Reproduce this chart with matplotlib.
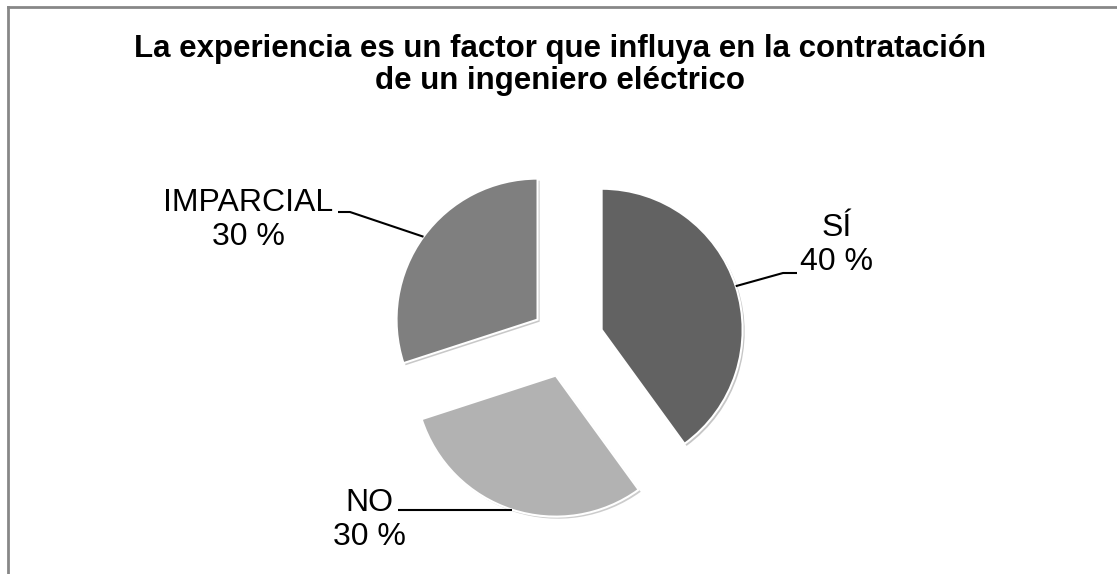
import matplotlib.pyplot as plt
import matplotlib.patheffects as pe
import numpy as np

# Data
labels = ['SÍ', 'NO', 'IMPARCIAL']
values = [40, 30, 30]
colors = ['#626262', '#b2b2b2', '#7f7f7f']

plt.rcParams['font.family'] = ['Liberation Sans', 'DejaVu Sans']

fig = plt.figure(figsize=(11.17, 5.74), dpi=100)
ax = fig.add_axes([0, 0, 1, 1])

# pie in pixel-like coordinates (y axis inverted below)
cx, cy, r = 567, 341, 141
gap = 36.4  # explode distance, same units as radius
wedges, _ = ax.pie(values,
                   colors=colors,
                   explode=[gap] * len(values),
                   startangle=-90,
                   counterclock=True,
                   center=(cx, cy),
                   radius=r,
                   wedgeprops=dict(edgecolor='white', linewidth=1.5))

for w in wedges:
    w.set_path_effects([pe.SimplePatchShadow(offset=(1.5, -1.5), alpha=0.25),
                        pe.Normal()])

ax.set_xlim(0, 1117)
ax.set_ylim(574, 0)
ax.set_aspect('equal')
ax.axis('off')

# label positions and elbow points for leader lines (None -> keep edge y)
label_pos = [(837, 245), (369, 520), (248, 220)]
elbow = [[(783, 273), (797, 273)],
         [(398, None)],
         [(350, 212), (338, 212)]]

for w, lab, v, pos, el in zip(wedges, labels, values, label_pos, elbow):
    mid = np.deg2rad((w.theta1 + w.theta2) / 2)
    wx, wy = w.center
    ex = wx + w.r * np.cos(mid)
    ey = wy + w.r * np.sin(mid)
    xs = [ex] + [p[0] for p in el]
    ys = [ey] + [ey if p[1] is None else p[1] for p in el]
    ax.plot(xs, ys, color='black', linewidth=1.5, solid_capstyle='butt')
    ax.text(pos[0], pos[1], f'{lab}\n{v} %', ha='center', va='center',
            multialignment='center', fontsize=23, color='black')

# title
ax.text(560, 65, 'La experiencia es un factor que influya en la contratación\n'
        'de un ingeniero eléctrico', ha='center', va='center',
        multialignment='center', fontsize=22.5, fontweight='bold',
        linespacing=1.05)

# chart border (top and left visible)
ax.plot([8, 1117], [7, 7], color='#878787', linewidth=2, clip_on=False)
ax.plot([8, 8], [7, 574], color='#878787', linewidth=2, clip_on=False)

fig.savefig('out.png', dpi=100)
